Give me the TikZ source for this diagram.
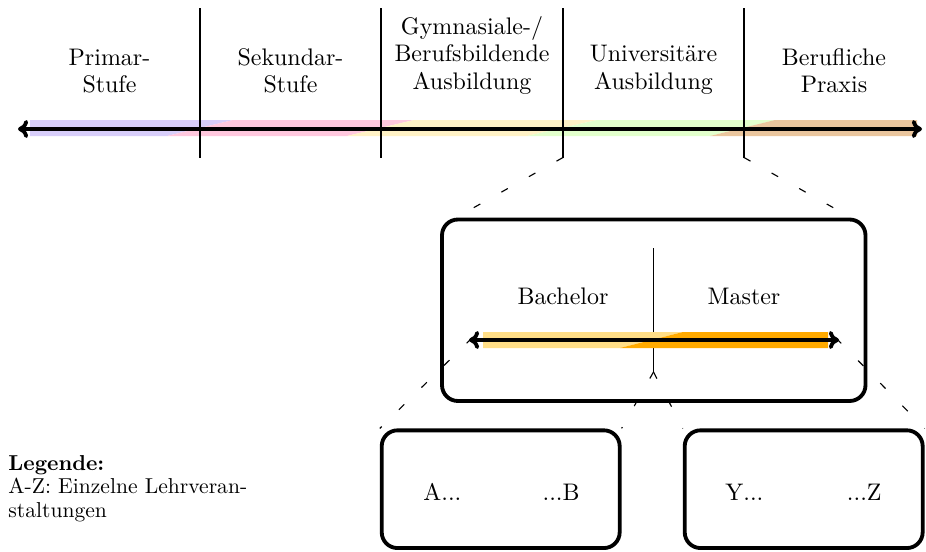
\documentclass[tikz,border=0pt]{standalone}
\usetikzlibrary{arrows.meta}

% stage colours of the education time line
\definecolor{cPrimar}{RGB}{216,206,250}
\definecolor{cSekundar}{RGB}{255,200,222}
\definecolor{cGymnasial}{RGB}{255,242,198}
\definecolor{cUni}{RGB}{226,255,204}
\definecolor{cBeruf}{RGB}{234,198,158}
\definecolor{cBachelor}{RGB}{255,222,135}
\definecolor{cMaster}{RGB}{255,170,0}

\begin{document}
\begin{tikzpicture}[x=0.4425pt,y=-0.4425pt,
  every node/.style={font=\fontsize{10.6}{12.1}\selectfont},
  heavy/.style={line width=1.7pt},
  bigarrow/.style={heavy, {Computer Modern Rightarrow[length=4.5pt,width=8pt]}-{Computer Modern Rightarrow[length=4.5pt,width=8pt]}},
  divider/.style={line width=0.5pt},
  guide/.style={line width=0.5pt, dash pattern=on 3.3pt off 10.7pt},
  panel/.style={draw, heavy, rounded corners=7pt, inner sep=0pt},
  stagelabel/.style={align=center, inner sep=0pt, anchor=south},
  plain/.style={inner sep=0pt},
]
\useasboundingbox (0,0) rectangle (926,552);

% ---------- coloured band behind the main time line ----------
\fill[cPrimar]    (30,120)  -- (233,120) -- (167,136) -- (30,136)  -- cycle;
\fill[cSekundar]  (233,120) -- (414,120) -- (347,136) -- (167,136) -- cycle;
\fill[cGymnasial] (414,120) -- (597,120) -- (527,136) -- (347,136) -- cycle;
\fill[cUni]       (597,120) -- (775,120) -- (710,136) -- (527,136) -- cycle;
\fill[cBeruf]     (775,120) -- (917,120) -- (917,136) -- (710,136) -- cycle;

% ---------- main time line ----------
\coordinate (axL) at (18,129);
\coordinate (axR) at (922,129);
\draw[bigarrow] (axL) -- (axR);

% ---------- stage dividers ----------
\foreach \x/\n in {200/1,381/2,563/3,744/4}{
  \coordinate (d\n t) at (\x,8);
  \coordinate (d\n b) at (\x,157.5);
}
\draw[divider] (d1t) -- (d1b);
\draw[divider] (d2t) -- (d2b);
\draw[divider] (d3t) -- (d3b);
\draw[divider] (d4t) -- (d4b);

% ---------- stage labels ----------
\node[stagelabel] (sPrimar)   at (109.5,93.5) {Primar-\\Stufe};
\node[stagelabel] (sSekundar) at (290.5,93.5) {Sekundar-\\Stufe};
\node[stagelabel] (sGymnas)   at (472,94.5)   {Gymnasiale-/\\Berufsbildende\\Ausbildung};
\node[stagelabel] (sUni)      at (653.5,94.5) {Universitäre\\Ausbildung};
\node[stagelabel] (sBeruf)    at (834,93.5)   {Berufliche\\Praxis};

% ---------- university panel ----------
\node[panel, minimum width=187.4pt, minimum height=80.3pt] (mid) at (653.75,310.25) {};
\coordinate (zoomL) at (450,221);
\coordinate (zoomR) at (857,221);
\draw[guide] (d3b) -- (zoomL);
\draw[guide] (d4b) -- (zoomR);

\coordinate (mdT) at (653.5,248);
\coordinate (mdB) at (653.5,372);
\draw[divider] (mdT) -- (mdB);

\node[anchor=base] (bach) at (563,304) {Bachelor};
\node[anchor=base] (mast) at (744,304) {Master};

\fill[cBachelor] (483,332) -- (683,332) -- (620,348) -- (483,348) -- cycle;
\fill[cMaster]   (683,332) -- (828,332) -- (828,348) -- (620,348) -- cycle;
\coordinate (maL) at (469,340);
\coordinate (maR) at (839,340);
\draw[bigarrow] (maL) -- (maR);

% ---------- course panels ----------
\node[panel, minimum width=105.3pt, minimum height=52.1pt] (lbox) at (500.7,489.2) {};
\node[panel, minimum width=105.3pt, minimum height=52.1pt] (rbox) at (803.7,489.2) {};

\coordinate (maLs) at (472,338);
\coordinate (maRs) at (836,338);
\draw[guide] (maLs) -- (lbox.north west);
\draw[guide] (mdB)  -- (lbox.north east);
\draw[guide] (mdB)  -- (rbox.north west);
\draw[guide] (maRs) -- (rbox.north east);

\node[plain, anchor=base west] (tA) at (423,500) {A...};
\node[plain, anchor=base east] (tB) at (580,500) {...B};
\node[plain, anchor=base west] (tY) at (725,500) {Y...};
\node[plain, anchor=base east] (tZ) at (882,500) {...Z};

% ---------- legend ----------
\node[plain, anchor=north west, align=left,
      font=\fontsize{9.55}{10.4}\selectfont] (legend) at (8,455)
  {\textbf{Legende:}\\A-Z: Einzelne Lehrveran-\\staltungen};
\end{tikzpicture}
\end{document}
